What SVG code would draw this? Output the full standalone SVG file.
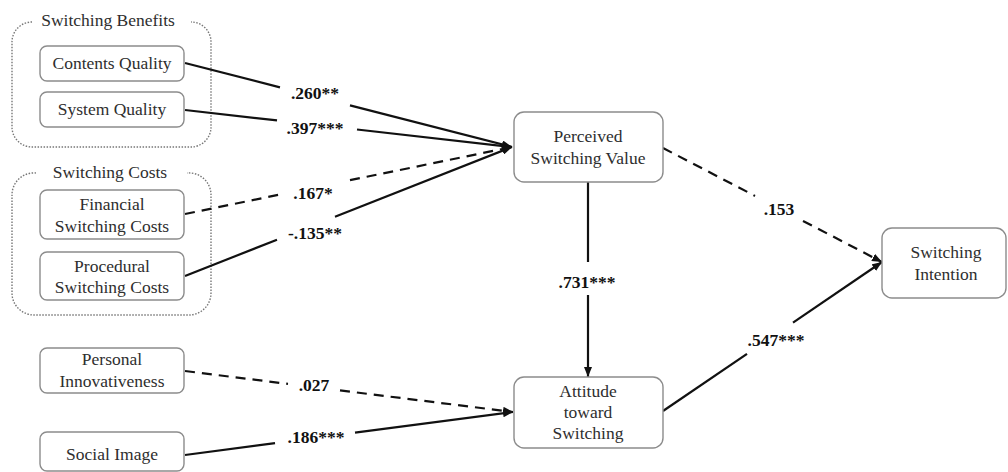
<svg xmlns="http://www.w3.org/2000/svg" width="1008" height="472" viewBox="0 0 1008 472">
  <defs>
    <style>
      .box { fill: #ffffff; stroke: #8c8c8c; stroke-width: 1.4; }
      .grp { fill: none; stroke: #777777; stroke-width: 1.4; stroke-dasharray: 1.5 1.5; }
      .lbl { font-family: "Liberation Serif", "Times New Roman", serif; font-size: 17.5px; fill: #2e2e2e; text-anchor: middle; }
      .coef { font-family: "Liberation Serif", "Times New Roman", serif; font-size: 17.5px; font-weight: bold; fill: #111111; text-anchor: middle; }
      .ln { fill: none; stroke: #111111; stroke-width: 2.2; }
      .dash { stroke-dasharray: 10 7; }
    </style>
    <marker id="arrow" viewBox="0 0 10 8" refX="10" refY="4" markerWidth="10" markerHeight="8" markerUnits="userSpaceOnUse" orient="auto">
      <path d="M0,0 L10,4 L0,8 z" fill="#111111"/>
    </marker>
  </defs>

  <rect width="1008" height="472" fill="#ffffff"/>

  <!-- construct groupings -->
  <g id="group-benefits">
    <path class="grp" d="M32,22 A20,20 0 0 0 12,42 V127 A20,20 0 0 0 32,147 H191 A20,20 0 0 0 211,127 V42 A20,20 0 0 0 191,22"/>
    <text class="lbl" x="108" y="26">Switching Benefits</text>
  </g>
  <g id="group-costs">
    <path class="grp" d="M36,173 A22,22 0 0 0 12,195 V293 A22,22 0 0 0 34,315 H189 A22,22 0 0 0 211,293 V195 A22,22 0 0 0 187,173"/>
    <text class="lbl" x="110" y="178">Switching Costs</text>
  </g>

  <!-- connectors -->
  <g id="connectors">
    <!-- into Perceived Switching Value -->
    <path class="ln" d="M185,63 L280,87.4"/>
    <path class="ln" d="M350,105.4 L512,147" marker-end="url(#arrow)"/>
    <path class="ln" d="M185,110 L277,120.4"/>
    <path class="ln" d="M357,129.5 L512,147" marker-end="url(#arrow)"/>
    <path class="ln dash" d="M185,214 L283,193.9"/>
    <path class="ln dash" d="M350,180.2 L512,147" marker-end="url(#arrow)"/>
    <path class="ln" d="M185,276 L277,239.7"/>
    <path class="ln" d="M335,216.8 L512,147" marker-end="url(#arrow)"/>
    <!-- Perceived Switching Value to Switching Intention -->
    <path class="ln dash" d="M663,148 L755,195.9"/>
    <path class="ln dash" d="M803,220.9 L882,262" marker-end="url(#arrow)"/>
    <!-- Perceived Switching Value to Attitude -->
    <path class="ln" d="M588,182 L588,262"/>
    <path class="ln" d="M588,295 L588,377" marker-end="url(#arrow)"/>
    <!-- Attitude to Switching Intention -->
    <path class="ln" d="M663,411 L747,353.8"/>
    <path class="ln" d="M793,322.6 L882,262" marker-end="url(#arrow)"/>
    <!-- into Attitude toward Switching -->
    <path class="ln dash" d="M185,371 L288,383.9"/>
    <path class="ln dash" d="M340,390.4 L513,412" marker-end="url(#arrow)"/>
    <path class="ln" d="M185,455 L275,443.2"/>
    <path class="ln" d="M355,432.7 L513,412" marker-end="url(#arrow)"/>

    <!-- path coefficients -->
    <text class="coef" x="315" y="99">.260**</text>
    <text class="coef" x="315" y="134">.397***</text>
    <text class="coef" x="313" y="199">.167*</text>
    <text class="coef" x="315" y="239">-.135**</text>
    <text class="coef" x="779" y="215">.153</text>
    <text class="coef" x="587" y="288">.731***</text>
    <text class="coef" x="776" y="346">.547***</text>
    <text class="coef" x="314" y="391">.027</text>
    <text class="coef" x="316" y="443">.186***</text>
  </g>

  <!-- nodes -->
  <g id="contents-quality">
    <rect class="box" x="40" y="46" width="144" height="35" rx="7"/>
    <text class="lbl" x="112" y="69">Contents Quality</text>
  </g>
  <g id="system-quality">
    <rect class="box" x="40" y="92" width="144" height="35" rx="7"/>
    <text class="lbl" x="112" y="115">System Quality</text>
  </g>
  <g id="financial-switching-costs">
    <rect class="box" x="40" y="190" width="144" height="49" rx="7"/>
    <text class="lbl" x="112" y="210">Financial</text>
    <text class="lbl" x="112" y="232">Switching Costs</text>
  </g>
  <g id="procedural-switching-costs">
    <rect class="box" x="40" y="252" width="144" height="48" rx="7"/>
    <text class="lbl" x="112" y="272">Procedural</text>
    <text class="lbl" x="112" y="293">Switching Costs</text>
  </g>
  <g id="personal-innovativeness">
    <rect class="box" x="40" y="348" width="144" height="45" rx="7"/>
    <text class="lbl" x="112" y="365">Personal</text>
    <text class="lbl" x="112" y="387">Innovativeness</text>
  </g>
  <g id="social-image">
    <rect class="box" x="40" y="432" width="144" height="39" rx="7"/>
    <text class="lbl" x="112" y="460">Social Image</text>
  </g>
  <g id="perceived-switching-value">
    <rect class="box" x="514" y="112" width="149" height="70" rx="10"/>
    <text class="lbl" x="588" y="142">Perceived</text>
    <text class="lbl" x="588" y="164">Switching Value</text>
  </g>
  <g id="attitude-toward-switching">
    <rect class="box" x="514" y="377" width="149" height="71" rx="10"/>
    <text class="lbl" x="588" y="397">Attitude</text>
    <text class="lbl" x="588" y="418">toward</text>
    <text class="lbl" x="588" y="439">Switching</text>
  </g>
  <g id="switching-intention">
    <rect class="box" x="882" y="228" width="124" height="70" rx="10"/>
    <text class="lbl" x="946" y="258">Switching</text>
    <text class="lbl" x="946" y="280">Intention</text>
  </g>
</svg>
